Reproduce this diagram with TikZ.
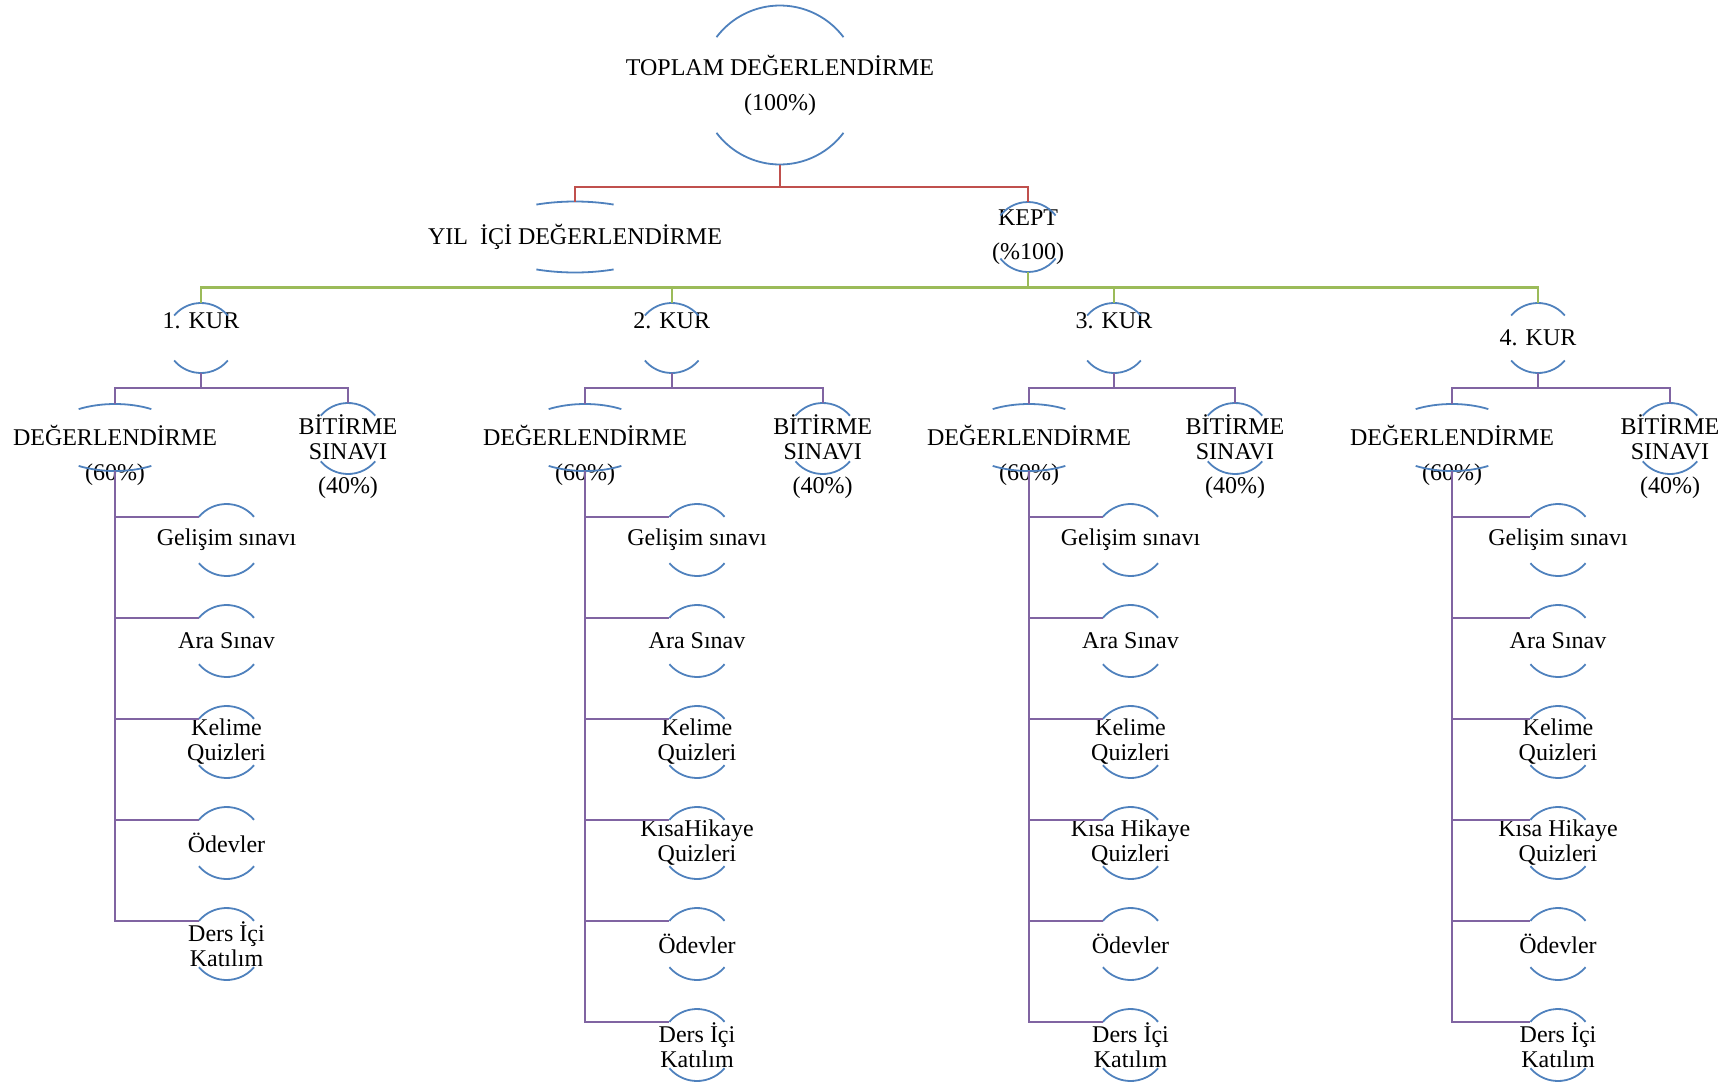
\documentclass[tikz,border=0pt]{standalone}
\usepackage{fontspec}
\setmainfont{Liberation Serif}
\usetikzlibrary{shapes.geometric}

\definecolor{arcblue}{RGB}{79,129,189}
\definecolor{linered}{RGB}{192,80,77}
\definecolor{linegreen}{RGB}{155,187,89}
\definecolor{linepurple}{RGB}{128,100,162}

% top and bottom arcs of a ring node: name, x radius, y radius, angle
\newcommand{\ringarcs}[4]{%
  \draw[arcline] ([shift={(#4:#2 and #3)}]#1.center) arc[start angle=#4,end angle=180-#4,x radius=#2,y radius=#3];
  \draw[arcline] ([shift={(-#4:#2 and #3)}]#1.center) arc[start angle=-#4,end angle=-180+#4,x radius=#2,y radius=#3];}

\begin{document}
\begin{tikzpicture}[x=1pt,y=1pt,
  txt/.style={font=\fontsize{24}{25}\selectfont,align=center,inner sep=0},
  ring/.style 2 args={ellipse,inner sep=0,outer sep=0,minimum width=2*#1,minimum height=2*#2},
  arcline/.style={draw=arcblue,line width=1.8pt},
  conn/.style={line width=2.2pt}]
\useasboundingbox (0,0) rectangle (1735,-1082);

% top of the tree
\node[ring={79.5}{79.5},label={[txt]center:{TOPLAM DEĞERLENDİRME\\[10pt](100\%)}}] (top) at (780,-85) {};
\node[ring={95}{35.5},label={[txt]center:{YIL\ \ İÇİ DEĞERLENDİRME}}] (yil) at (575,-237) {};
\node[ring={35}{35},label={[txt]center:{KEPT\\[9pt](\%100)}}] (kept) at (1028,-237) {};
\ringarcs{top}{79.5}{79.5}{37}
\ringarcs{yil}{95}{35.5}{66}
\ringarcs{kept}{35}{35}{38}
\draw[conn,linered] (top.south) -- ++(0,-22.5) -| (yil.north);
\draw[conn,linered] (top.south) -- ++(0,-22.5) -| (kept.north);

% the four levels
\foreach \i/\kx/\dx/\bx/\cx/\ky/\items in {
  1/201/115/348/226.5/17/{Gelişim sınavı,Ara Sınav,Kelime\\Quizleri,Ödevler,Ders İçi\\Katılım},
  2/671.7/585/822.7/697/17/{Gelişim sınavı,Ara Sınav,Kelime\\Quizleri,KısaHikaye\\Quizleri,Ödevler,Ders İçi\\Katılım},
  3/1114/1029/1235/1130.5/17/{Gelişim sınavı,Ara Sınav,Kelime\\Quizleri,Kısa Hikaye\\Quizleri,Ödevler,Ders İçi\\Katılım},
  4/1538/1452/1670/1558/0/{Gelişim sınavı,Ara Sınav,Kelime\\Quizleri,Kısa Hikaye\\Quizleri,Ödevler,Ders İçi\\Katılım}}
{
  \node[ring={35}{35},label={[txt,yshift=\ky]center:\i. KUR}] (kur\i) at (\kx,-338) {};
  \node[ring={68.5}{33.5},label={[txt,yshift=-18]center:{DEĞERLENDİRME\\[10pt](60\%)}}] (deg\i) at (\dx,-437.5) {};
  \node[ring={35.5}{35.5},label={[txt,yshift=-18]center:{BİTİRME\\SINAVI\\[9pt](40\%)}}] (bit\i) at (\bx,-438.5) {};
  \ringarcs{kur\i}{35}{35}{40}
  \ringarcs{deg\i}{68.5}{33.5}{58}
  \ringarcs{bit\i}{35.5}{35.5}{40}
  \draw[conn,linegreen] (kept.south) -- ++(0,-15.5) -| (kur\i.north);
  \draw[conn,linepurple] (kur\i.south) -- ++(0,-15) -| (deg\i.north);
  \draw[conn,linepurple] (kur\i.south) -- ++(0,-15) -| (bit\i.north);
  \foreach \lbl [count=\k] in \items {
    \node[ring={36}{36},label={[txt]center:{\lbl}}] (c\i-\k) at (\cx,{-540-101*(\k-1)}) {};
    \ringarcs{c\i-\k}{36}{36}{40}
    \draw[conn,linepurple] (deg\i.south) |- (c\i-\k.140);
  }
}
\end{tikzpicture}
\end{document}
